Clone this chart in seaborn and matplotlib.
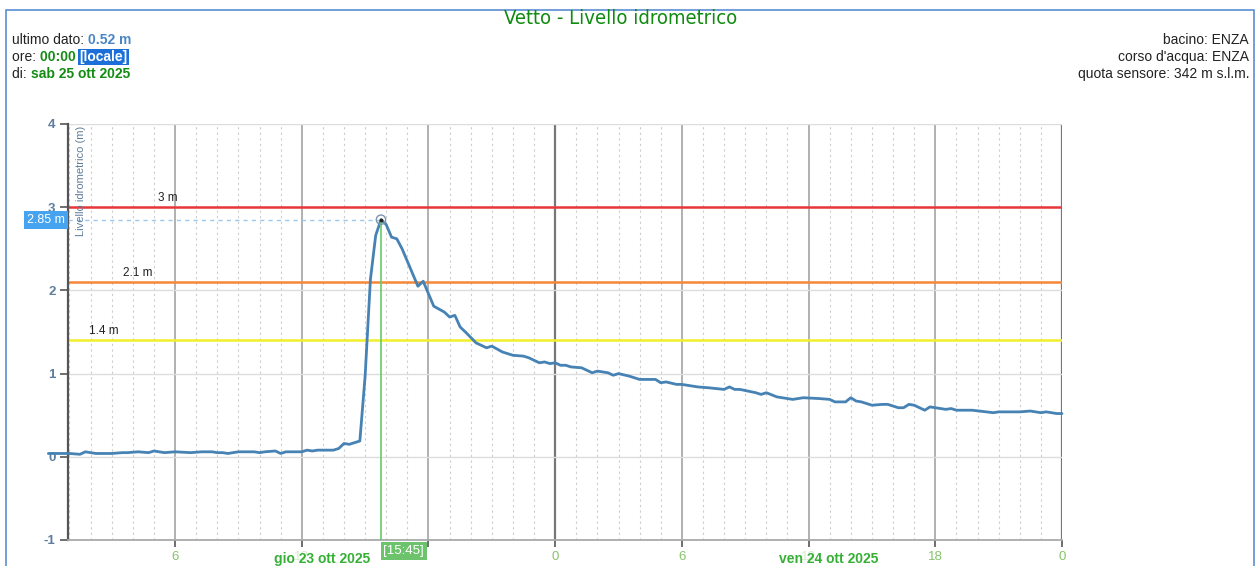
import matplotlib
matplotlib.use("Agg")
import matplotlib.pyplot as plt
import matplotlib.transforms as mtransforms
from matplotlib.patches import Rectangle
import numpy as np
import pandas as pd
import seaborn as sns

# Hours since 23 Oct 2025 00:00, and river level (m)
hours = [0.0, 1.0, 1.5, 1.75, 2.25, 3.0, 3.5, 3.75, 4.25, 4.75, 5.0, 5.5, 6.0, 6.75,
         7.25, 7.75, 8.0, 8.25, 8.5, 9.0, 9.5, 9.75, 10.0, 10.25, 10.75, 11.0, 11.25,
         11.5, 12.0, 12.25, 12.5, 12.75, 13.25, 13.5, 13.75, 14.0, 14.25, 14.75,
         15.0, 15.25, 15.5, 15.75, 16.0, 16.25, 16.5, 16.75, 17.0, 17.5, 17.75,
         18.25, 18.75, 19.0, 19.25, 19.5, 19.75, 20.25, 20.75, 21.0, 21.5, 22.0,
         22.5, 22.75, 23.25, 23.5, 23.75, 24.0, 24.25, 24.5, 24.75, 25.25, 25.75,
         26.0, 26.5, 26.75, 27.0, 27.5, 28.0, 28.75, 29.0, 29.25, 29.75, 30.0,
         30.75, 31.25, 32.0, 32.25, 32.5, 32.75, 33.5, 33.75, 34.0, 34.5, 35.25,
         35.75, 36.5, 37.0, 37.25, 37.75, 38.0, 38.25, 38.5, 39.0, 39.5, 39.75,
         40.25, 40.5, 40.75, 41.0, 41.5, 41.75, 42.25, 42.5, 42.75, 43.0, 43.75,
         44.75, 45.0, 46.0, 46.5, 47.0, 47.25, 47.75, 48.0]
level = [0.04, 0.04, 0.03, 0.06, 0.04, 0.04, 0.05, 0.05, 0.06, 0.05, 0.07, 0.05, 0.06, 0.05,
         0.06, 0.06, 0.05, 0.05, 0.04, 0.06, 0.06, 0.06, 0.05, 0.06, 0.07, 0.04, 0.06,
         0.06, 0.06, 0.08, 0.07, 0.08, 0.08, 0.08, 0.10, 0.16, 0.15, 0.19,
         0.97, 2.13, 2.66, 2.85, 2.79, 2.64, 2.62, 2.50, 2.35, 2.05, 2.11,
         1.81, 1.74, 1.68, 1.70, 1.56, 1.50, 1.37, 1.31, 1.33, 1.26, 1.22,
         1.21, 1.19, 1.13, 1.14, 1.12, 1.13, 1.10, 1.10, 1.08, 1.07, 1.01,
         1.03, 1.01, 0.98, 1.00, 0.97, 0.93, 0.93, 0.89, 0.90, 0.87, 0.87,
         0.84, 0.83, 0.81, 0.84, 0.81, 0.81, 0.77, 0.75, 0.77, 0.72, 0.69,
         0.71, 0.70, 0.69, 0.66, 0.66, 0.71, 0.67, 0.66, 0.62, 0.63, 0.63,
         0.59, 0.59, 0.63, 0.62, 0.56, 0.60, 0.58, 0.57, 0.58, 0.56, 0.56,
         0.53, 0.54, 0.54, 0.55, 0.53, 0.54, 0.52, 0.52]

thresholds = [3.0, 2.1, 1.4]
threshold_labels = ["3 m", "2.1 m", "1.4 m"]
threshold_colors = ["#e8373a", "#f5873a", "#f2ee2a"]
threshold_label_x = [5.67, 4.25, 2.64]

peak_time = 15.75
peak_value = 2.85
peak_label = "[15:45]"

x_ticks = [6, 12, 18, 24, 30, 36, 42, 48]
x_tick_labels = ["6", "12", "", "0", "6", "12", "18", "0"]
day_labels = ["gio 23 ott 2025", "ven 24 ott 2025"]
day_label_x = [12.95, 36.95]

df = pd.DataFrame({"hours": hours, "level": level})

W, H = 1256, 566
sns.set_style("white")
plt.rcParams["font.family"] = ["Liberation Sans", "DejaVu Sans"]
plt.rcParams["axes.unicode_minus"] = False

fig = plt.figure(figsize=(W / 100, H / 100), dpi=100)
ax = fig.add_axes([68 / W, 1 - 540 / H, (1062 - 68) / W, (540 - 124) / H])

def fx(x):
    return x / W

def fy(y):
    return 1 - y / H

# frame around the widget
fig.patches.append(Rectangle((fx(6), fy(568)), fx(1248), fy(10) - fy(568),
                             transform=fig.transFigure, fill=False,
                             edgecolor="#5b8dd6", linewidth=1.2))

# grid
for h in range(1, 48):
    if h % 6:
        ax.axvline(h, color="#cccccc", linestyle=(0, (2, 3)), linewidth=0.8, zorder=0)
for h in x_ticks:
    dark = h % 24 == 0
    ax.axvline(h, color="#777777" if dark else "#aaaaaa", linewidth=1.6 if dark else 1.3, zorder=0)
for v in range(-1, 5):
    ax.axhline(v, color="#dddddd", linewidth=1.0, zorder=0)

for thr, lab, col, lx in zip(thresholds, threshold_labels, threshold_colors, threshold_label_x):
    ax.axhline(thr, color=col, linewidth=1.8, zorder=1)
    ax.text(lx, thr + 0.04, lab, ha="center", va="bottom", fontsize=8.5, color="#222222")

sns.lineplot(data=df, x="hours", y="level", ax=ax, color="#4682b4", linewidth=2.0,
             zorder=3, clip_on=False)

# peak marker
ax.plot([peak_time, peak_time], [-1, peak_value], color="#66cc66", linewidth=1.2, zorder=4)
ax.plot([0.93, peak_time], [peak_value, peak_value], color="#9cc8ee",
        linestyle=(0, (3, 3)), linewidth=1.0, zorder=2)
ax.scatter([peak_time], [peak_value], s=45, facecolors="none", edgecolors="#7b95b0",
           linewidths=1.0, zorder=5)
ax.scatter([peak_time], [peak_value], s=3, color="#222222", zorder=6)

ax.set_xlim(0.93, 48)
ax.set_ylim(-1, 4)
ax.set_xticks(x_ticks)
ax.set_xticklabels(x_tick_labels)
ax.set_yticks(range(-1, 5))
ax.set_xlabel("")
ax.set_ylabel("")
ax.tick_params(axis="x", length=5, width=1.2, color="#555555", labelsize=9.5,
               labelcolor="#86c46a", pad=3, bottom=True)
ax.tick_params(axis="y", length=6, width=1.2, color="#555555", labelsize=9.5,
               labelcolor="#5f7d9c", pad=3, left=True)
for lbl in ax.get_yticklabels():
    lbl.set_fontweight("bold")
ax.get_xticklabels()[1].set_color("#d6ebcc")
ax.get_xticklabels()[5].set_color("#d6ebcc")

for side in ["top", "right"]:
    ax.spines[side].set_visible(False)
ax.spines["left"].set_color("#555555")
ax.spines["left"].set_linewidth(1.6)
ax.spines["bottom"].set_color("#aaaaaa")
ax.spines["bottom"].set_linewidth(1.3)

ax.text(0.008, 0.995, "Livello idrometrico (m)", transform=ax.transAxes, rotation=90,
        ha="left", va="top", fontsize=8, color="#5f7d9c")

# value badge on y axis
ybl = mtransforms.blended_transform_factory(ax.transAxes, ax.transData)
ax.text(-0.003, peak_value, f"{peak_value:.2f} m", transform=ybl, ha="right", va="center",
        fontsize=9, color="white",
        bbox=dict(boxstyle="square,pad=0.25", facecolor="#45a3f0", edgecolor="none"))

# time badge on x axis
xbl = mtransforms.blended_transform_factory(ax.transData, ax.transAxes)
ax.text(peak_time + 0.12, -0.026, peak_label, transform=xbl, ha="left", va="center",
        fontsize=9.5, color="white", zorder=10,
        bbox=dict(boxstyle="square,pad=0.22", facecolor="#6cc36c", edgecolor="none"))

for lab, dx in zip(day_labels, day_label_x):
    ax.text(dx, -0.045, lab, transform=xbl, ha="center", va="center", fontsize=10,
            fontweight="bold", color="#35b035")

# title and info block
fig.text(fx(621), fy(19), "Vetto - Livello idrometrico", ha="center", va="center",
         fontsize=14.5, color="#108a10", family="DejaVu Sans", fontstretch="condensed")

fs = 10
t = fig.text(fx(12), fy(40), "ultimo dato: ", ha="left", va="center", fontsize=fs, color="#222222")
fig.canvas.draw()
r = fig.canvas.get_renderer()

def after(prev, s, **kw):
    bb = prev.get_window_extent(renderer=r)
    return fig.text(bb.x1 / W, prev.get_position()[1], s, ha="left", va="center",
                    fontsize=fs, **kw)

after(t, "0.52 m", color="#4a86c5", fontweight="bold")
t2 = fig.text(fx(12), fy(57), "ore: ", ha="left", va="center", fontsize=fs, color="#222222")
t3 = after(t2, "00:00 ", color="#148c14", fontweight="bold")
after(t3, "[locale]", color="white", fontweight="bold",
      bbox=dict(boxstyle="square,pad=0.1", facecolor="#1c6fd8", edgecolor="none"))
t4 = fig.text(fx(12), fy(74), "di: ", ha="left", va="center", fontsize=fs, color="#222222")
after(t4, "sab 25 ott 2025", color="#148c14", fontweight="bold")

for i, s in enumerate(["bacino: ENZA", "corso d'acqua: ENZA", "quota sensore: 342 m s.l.m."]):
    fig.text(fx(1249), fy(40 + 17 * i), s, ha="right", va="center", fontsize=fs, color="#222222")

fig.savefig("out.png", dpi=100)
